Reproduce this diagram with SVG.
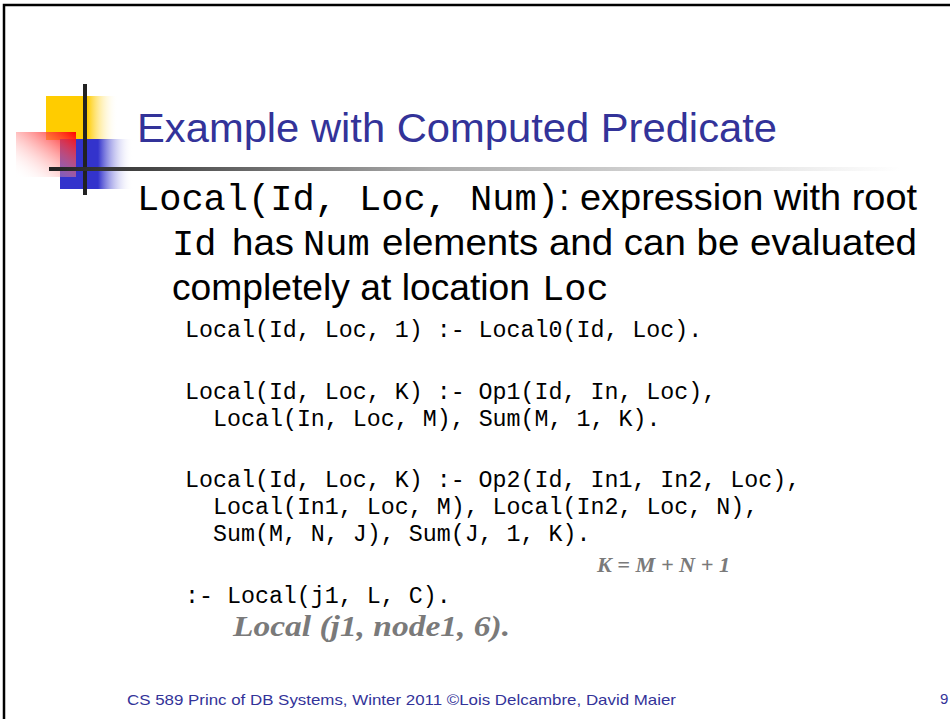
<svg xmlns="http://www.w3.org/2000/svg" width="950" height="719" viewBox="0 0 950 719">
<defs>
<linearGradient id="gY" x1="0" y1="0" x2="1" y2="0"><stop offset="0" stop-color="#ffcc00"/><stop offset="0.57" stop-color="#ffcc00"/><stop offset="1" stop-color="#ffffff" stop-opacity="0"/></linearGradient>
<linearGradient id="gB" x1="0" y1="0" x2="1" y2="0"><stop offset="0" stop-color="#3333cc"/><stop offset="0.52" stop-color="#3333cc"/><stop offset="1" stop-color="#ffffff" stop-opacity="0"/></linearGradient>
<linearGradient id="gR" x1="1" y1="0" x2="0" y2="1"><stop offset="0" stop-color="#ff0000"/><stop offset="1" stop-color="#ffffff" stop-opacity="0"/></linearGradient>
<linearGradient id="gL" gradientUnits="userSpaceOnUse" x1="49" y1="0" x2="900" y2="0"><stop offset="0" stop-color="#222222"/><stop offset="0.45" stop-color="#aaaaaa"/><stop offset="1" stop-color="#ffffff"/></linearGradient>
</defs>
<style>
.title{font-family:"Liberation Sans",Arial,sans-serif;font-size:41px;fill:#333399}
.mono{font-family:"Liberation Mono","Courier New",monospace;fill:#000}
.bm{font-size:37px}
.bs{font-family:"Liberation Sans",Arial,sans-serif;font-size:37px;fill:#000}
.code{font-size:23.3px}
.hand{font-family:"Liberation Serif","Times New Roman",serif;font-style:italic;font-weight:bold;fill:#7a7a7a}
.foot{font-family:"Liberation Sans",Arial,sans-serif;font-size:15px;fill:#333399}
</style>
<rect width="950" height="719" fill="#ffffff"/>
<rect x="4" y="5" width="1000" height="1000" fill="none" stroke="#000" stroke-width="2.5"/>
<g id="logo">
<rect x="46" y="96" width="72" height="44" fill="url(#gY)"/>
<rect x="60" y="139" width="73" height="50" fill="url(#gB)"/>
<rect x="16" y="132" width="60" height="45" fill="url(#gR)"/>
<rect x="83" y="84" width="4" height="111" fill="#222"/>
<rect x="49" y="167" width="851" height="4" fill="url(#gL)"/>
</g>
<g id="title">
<text class="title" x="137" y="142" textLength="640" lengthAdjust="spacingAndGlyphs">Example with Computed Predicate</text>
</g>
<g id="body">
<text class="mono bm" x="137" y="210">Local(Id, Loc, Num)</text>
<text class="bs" x="559" y="210" textLength="358" lengthAdjust="spacingAndGlyphs">: expression with root</text>
<text class="mono bm" x="172" y="255">Id</text>
<text class="bs" x="232" y="255" textLength="62" lengthAdjust="spacingAndGlyphs">has</text>
<text class="mono bm" x="303" y="255">Num</text>
<text class="bs" x="382" y="255" textLength="535" lengthAdjust="spacingAndGlyphs">elements and can be evaluated</text>
<text class="bs" x="172" y="300" textLength="358" lengthAdjust="spacingAndGlyphs">completely at location</text>
<text class="mono bm" x="542" y="300">Loc</text>
</g>
<g id="code">
<text class="mono code" x="185" y="337">Local(Id, Loc, 1) :- Local0(Id, Loc).</text>
<text class="mono code" x="185" y="399">Local(Id, Loc, K) :- Op1(Id, In, Loc),</text>
<text class="mono code" x="213" y="426">Local(In, Loc, M), Sum(M, 1, K).</text>
<text class="mono code" x="185" y="487">Local(Id, Loc, K) :- Op2(Id, In1, In2, Loc),</text>
<text class="mono code" x="213" y="514">Local(In1, Loc, M), Local(In2, Loc, N),</text>
<text class="mono code" x="213" y="541">Sum(M, N, J), Sum(J, 1, K).</text>
<text class="mono code" x="185" y="603">:- Local(j1, L, C).</text>
</g>
<g id="handwriting">
<text class="hand" x="597" y="572" font-size="21" textLength="133" lengthAdjust="spacingAndGlyphs">K = M + N + 1</text>
<text class="hand" x="233" y="636" font-size="30" textLength="277" lengthAdjust="spacingAndGlyphs">Local (j1, node1, 6).</text>
</g>
<g id="footer">
<text class="foot" x="127" y="705" textLength="549" lengthAdjust="spacingAndGlyphs">CS 589 Princ of DB Systems, Winter 2011 ©Lois Delcambre, David Maier</text>
<text class="foot" x="940" y="704">9</text>
</g>
</svg>
